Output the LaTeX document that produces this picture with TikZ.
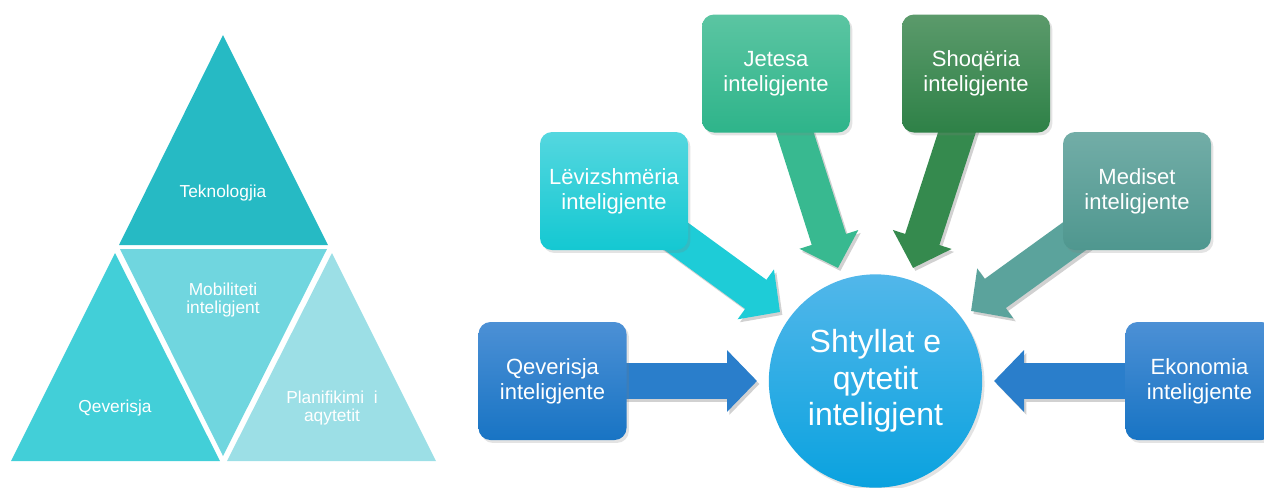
\documentclass[tikz,border=0pt]{standalone}
\usepackage{fontspec}
\setmainfont{Liberation Sans}
\usetikzlibrary{shadows,arrows.meta,calc}
\definecolor{triTop}{HTML}{26BAC4}
\definecolor{triLeft}{HTML}{42CFD8}
\definecolor{triMid}{HTML}{70D6DF}
\definecolor{triRight}{HTML}{9CDFE6}
\definecolor{levT}{HTML}{54D7DF}
\definecolor{levB}{HTML}{14C8D2}
\definecolor{levA}{HTML}{1ECCD7}
\definecolor{qevT}{HTML}{4C90D5}
\definecolor{qevB}{HTML}{1874C4}
\definecolor{qevA}{HTML}{2A7ECB}
\definecolor{jetT}{HTML}{5BC5A2}
\definecolor{jetB}{HTML}{2EB48A}
\definecolor{jetA}{HTML}{38B990}
\definecolor{shoT}{HTML}{5B9A6B}
\definecolor{shoB}{HTML}{2E8147}
\definecolor{shoA}{HTML}{358A4E}
\definecolor{medT}{HTML}{72ADA7}
\definecolor{medB}{HTML}{4F978F}
\definecolor{medA}{HTML}{5BA39C}
\definecolor{hubT}{HTML}{52B7EA}
\definecolor{hubB}{HTML}{0AA2DF}
\begin{document}
\begin{tikzpicture}[x=0.75pt,y=-0.75pt,
  tritext/.style={text=white,align=center,font=\fontsize{13}{14}\selectfont,inner sep=0pt},
  pillar/.style={rounded corners=9pt,minimum width=111pt,minimum height=88.5pt,
    text=white,align=center,font=\fontsize{16.5}{18.75}\selectfont,inner sep=0pt,
    drop shadow={shadow xshift=1.8pt,shadow yshift=-2.2pt,opacity=0.22}},
  hubnode/.style={circle,minimum size=160pt,inner sep=0pt,text=white,align=center,
    font=\fontsize{24}{27.5}\selectfont,top color=hubT,bottom color=hubB,
    drop shadow={shadow xshift=1.8pt,shadow yshift=-2.2pt,opacity=0.22}},
  blockarrow/.style={line width=27pt,-{Triangle[length=22.5pt,width=45pt]}},
  arrowshadow/.style={blockarrow,black,transform canvas={shift={(1.8pt,-2.2pt)}}}
]
\useasboundingbox (0,0) rectangle (1264,487);
\clip (0,0) rectangle (1264,487);
% pyramid
\fill[triTop] (223,35) -- (119,245) -- (328,245) -- cycle;
\fill[triLeft] (115,253) -- (11,461) -- (220,461) -- cycle;
\fill[triMid] (120,249) -- (327,249) -- (223,456) -- cycle;
\fill[triRight] (332,253) -- (227,461) -- (436,461) -- cycle;
\node[tritext] (tek) at (223,193) {Teknologjia};
\node[tritext] (mob) at (223,300) {Mobiliteti\\inteligjent};
\node[tritext] (qevt) at (115,408) {Qeverisja};
\node[tritext] (pla) at (332,408) {Planifikimi\ \ i\\aqytetit};
% hub and pillars
\coordinate (cLev) at (614,191);
\coordinate (cJet) at (776,73.5);
\coordinate (cSho) at (976,73.5);
\coordinate (cMed) at (1137,191);
\coordinate (cQev) at (552.5,381);
\coordinate (cEko) at (1199.5,381);
\coordinate (tLev) at (780,312);
\coordinate (tJet) at (838,268);
\coordinate (tSho) at (913,268);
\coordinate (tMed) at (971,311);
\coordinate (tQev) at (757,381);
\coordinate (tEko) at (994,381);
\begin{scope}[transparency group,opacity=0.18]
\draw[arrowshadow] (cLev) -- (tLev);
\draw[arrowshadow] (cJet) -- (tJet);
\draw[arrowshadow] (cSho) -- (tSho);
\draw[arrowshadow] (cMed) -- (tMed);
\draw[arrowshadow] (cQev) -- (tQev);
\draw[arrowshadow] (cEko) -- (tEko);
\end{scope}
\draw[blockarrow,levA] (cLev) -- (tLev);
\draw[blockarrow,jetA] (cJet) -- (tJet);
\draw[blockarrow,shoA] (cSho) -- (tSho);
\draw[blockarrow,medA] (cMed) -- (tMed);
\draw[blockarrow,qevA] (cQev) -- (tQev);
\draw[blockarrow,qevA] (cEko) -- (tEko);
\node[hubnode] (hub) at (875.5,381) {Shtyllat e\\qytetit\\inteligjent};
\node[pillar,top color=levT,bottom color=levB] (lev) at (cLev) {Lëvizshmëria\\inteligjente};
\node[pillar,top color=jetT,bottom color=jetB] (jet) at (cJet) {Jetesa\\inteligjente};
\node[pillar,top color=shoT,bottom color=shoB] (sho) at (cSho) {Shoqëria\\inteligjente};
\node[pillar,top color=medT,bottom color=medB] (med) at (cMed) {Mediset\\inteligjente};
\node[pillar,top color=qevT,bottom color=qevB] (qev) at (cQev) {Qeverisja\\inteligjente};
\node[pillar,top color=qevT,bottom color=qevB] (eko) at (cEko) {Ekonomia\\inteligjente};
\end{tikzpicture}
\end{document}
